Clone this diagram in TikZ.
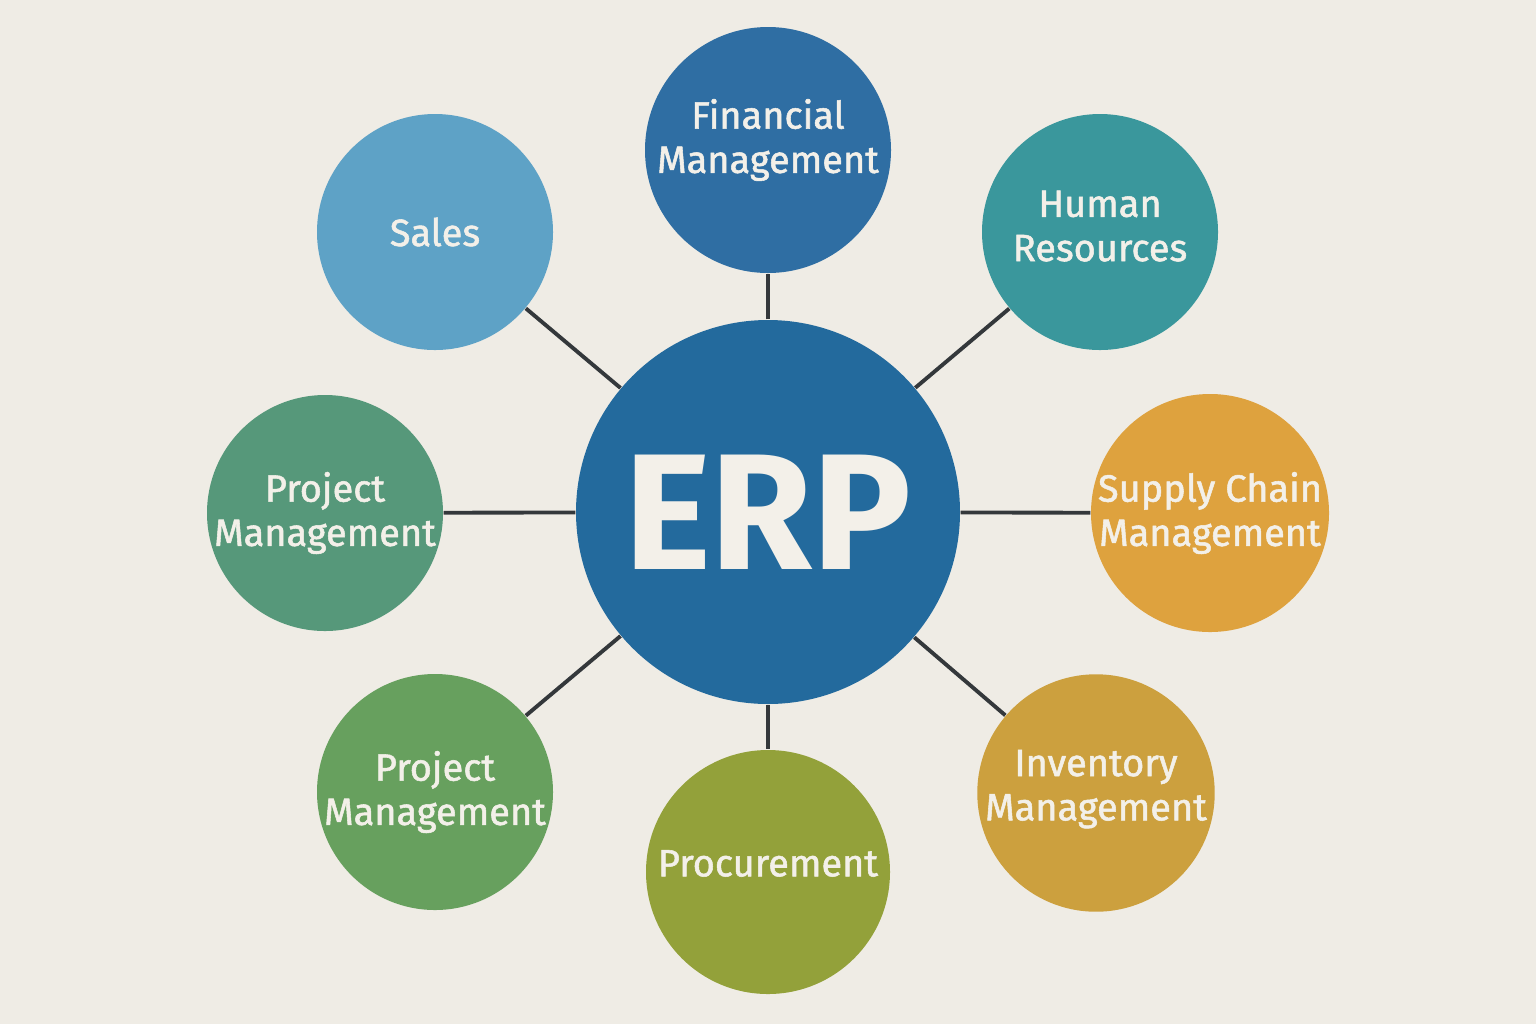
\documentclass[tikz,border=0pt]{standalone}
\usepackage{fontspec}
\setsansfont{Fira Sans}
\newfontfamily\satfont{Fira Sans}[FakeBold=1.4]
\usepackage{tikz}
\usetikzlibrary{positioning}
\definecolor{bgpaper}{HTML}{EFECE5}
\definecolor{ink}{HTML}{F3F0E9}
\definecolor{erpblue}{HTML}{236A9D}
\definecolor{finblue}{HTML}{2F6EA3}
\definecolor{salesblue}{HTML}{5EA2C6}
\definecolor{hrteal}{HTML}{3A979C}
\definecolor{pmgreen}{HTML}{56987A}
\definecolor{scmgold}{HTML}{DEA23E}
\definecolor{pmleaf}{HTML}{67A05E}
\definecolor{procolive}{HTML}{93A13A}
\definecolor{invochre}{HTML}{CCA03E}
\definecolor{spoke}{HTML}{34383B}

\begin{document}
\begin{tikzpicture}[
  hub/.style={circle,fill=erpblue,minimum size=3.84cm,inner sep=0pt,
              text=ink,font=\sffamily\bfseries\fontsize{47}{50}\selectfont},
  sat/.style={circle,minimum size=2.36cm,inner sep=0pt,text=ink,align=center,
              font=\satfont\fontsize{10.8}{12.6}\selectfont},
  link/.style={line width=1.1pt,color=spoke}
]
  \fill[bgpaper] (0,0) rectangle (15.36,-10.24);
  \useasboundingbox (0,0) rectangle (15.36,-10.24);

  \node[hub] (erp) at (7.68,-5.12) {ERP};

  \node[sat,fill=finblue,minimum size=2.46cm,text depth=8pt] (fin) at (7.68,-1.50) {Financial\\Management};
  \node[sat,fill=salesblue] (sales) at (4.35,-2.32) {Sales};
  \node[sat,fill=hrteal,text depth=3.5pt] (hr) at (11.00,-2.32) {Human\\Resources};
  \node[sat,fill=pmgreen]   (pmw)   at (3.25,-5.13) {Project\\Management};
  \node[sat,fill=scmgold]   (scm)   at (12.10,-5.13) {Supply Chain\\Management};
  \node[sat,fill=pmleaf]    (pmsw)  at (4.35,-7.92) {Project\\Management};
  \node[sat,fill=procolive,minimum size=2.44cm,text depth=5pt] (proc) at (7.68,-8.72) {Procurement};
  \node[sat,fill=invochre,text depth=4.5pt]  (inv)   at (10.96,-7.93) {Inventory\\Management};

  \draw[link] (erp) -- (fin);
  \draw[link] (erp) -- (sales);
  \draw[link] (erp) -- (hr);
  \draw[link] (erp) -- (pmw);
  \draw[link] (erp) -- (scm);
  \draw[link] (erp) -- (pmsw);
  \draw[link] (erp) -- (proc);
  \draw[link] (erp) -- (inv);
\end{tikzpicture}
\end{document}
